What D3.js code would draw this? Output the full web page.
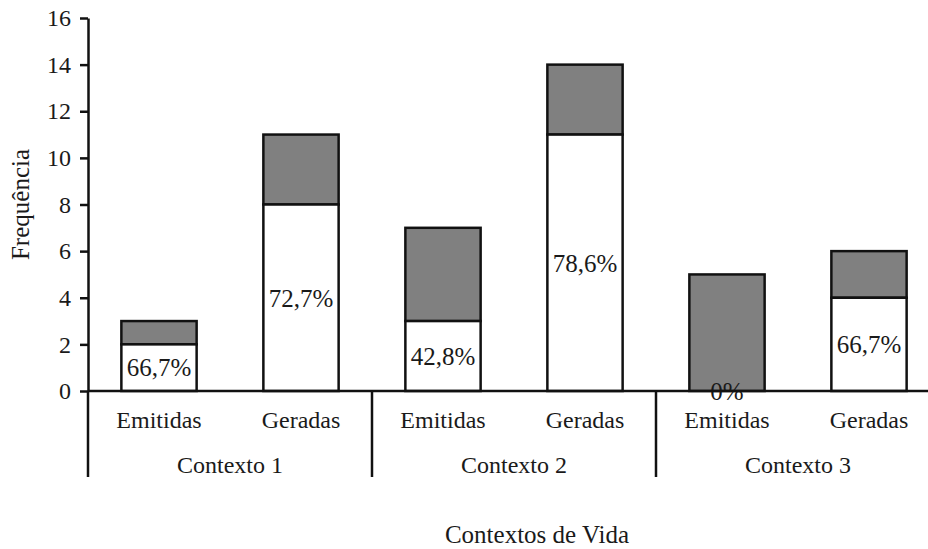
<!DOCTYPE html>
<html>
<head>
<meta charset="utf-8">
<script src="https://cdn.jsdelivr.net/npm/d3@7"></script>
<style>
  body { margin: 0; background: #fff; }
  svg text { font-family: "Liberation Serif", "DejaVu Serif", serif; fill: #1a1a1a; }
</style>
</head>
<body>
<div id="chart"></div>
<script>
// chart data
const contexts = ["Contexto 1", "Contexto 2", "Contexto 3"];
const kinds = ["Emitidas", "Geradas"];
const whiteValues = [2, 8, 3, 11, 0, 4];   // bottom (white) part
const totalValues = [3, 11, 7, 14, 5, 6];  // full bar height
const pctLabels = ["66,7%", "72,7%", "42,8%", "78,6%", "0%", "66,7%"];
const yTicks = [0, 2, 4, 6, 8, 10, 12, 14, 16];

const width = 928, height = 549;
const margin = { left: 88, top: 18, bottom: 158 };
const groupW = 284;

const svg = d3.select("#chart").append("svg")
  .attr("width", width)
  .attr("height", height);

const y = d3.scaleLinear().domain([0, 16]).range([height - margin.bottom, margin.top]);

const x0 = d3.scaleBand().domain(contexts)
  .range([margin.left, margin.left + groupW * contexts.length]);
const x1 = d3.scaleBand().domain(kinds).range([0, x0.bandwidth()]).paddingInner(0.47).paddingOuter(0.235);

const bars = [];
contexts.forEach((c, i) => {
  kinds.forEach((k, j) => {
    const n = i * 2 + j;
    bars.push({ c, k, white: whiteValues[n], total: totalValues[n], pct: pctLabels[n] });
  });
});

const g = svg.append("g");

// gray top part
g.selectAll("rect.top").data(bars).enter().append("rect")
  .attr("x", d => x0(d.c) + x1(d.k))
  .attr("width", x1.bandwidth())
  .attr("y", d => y(d.total))
  .attr("height", d => y(d.white) - y(d.total))
  .attr("fill", "#808080")
  .attr("stroke", "#111")
  .attr("stroke-width", 2.5);

// white bottom part
g.selectAll("rect.bottom").data(bars.filter(d => d.white > 0)).enter().append("rect")
  .attr("x", d => x0(d.c) + x1(d.k))
  .attr("width", x1.bandwidth())
  .attr("y", d => y(d.white))
  .attr("height", d => y(0) - y(d.white))
  .attr("fill", "#fff")
  .attr("stroke", "#111")
  .attr("stroke-width", 2.5);

// percent labels
g.selectAll("text.pct").data(bars).enter().append("text")
  .attr("x", d => x0(d.c) + x1(d.k) + x1.bandwidth() / 2)
  .attr("y", d => (y(0) + y(d.white)) / 2)
  .attr("dy", "0.35em")
  .attr("text-anchor", "middle")
  .attr("font-size", 25)
  .text(d => d.pct);

// y axis
const yAxis = d3.axisLeft(y).tickValues(yTicks).tickSize(8).tickPadding(9).tickSizeOuter(0);
const ya = svg.append("g").attr("transform", `translate(${margin.left},0)`).call(yAxis);
ya.select(".domain").attr("stroke", "#111").attr("stroke-width", 2.5);
ya.selectAll(".tick line").attr("stroke", "#111").attr("stroke-width", 2.5);
ya.selectAll(".tick text").attr("font-size", 24).attr("font-family", "Liberation Serif").attr("fill", "#1a1a1a");

// x axis baseline
const y0 = y(0);
svg.append("line")
  .attr("x1", margin.left).attr("x2", width)
  .attr("y1", y0).attr("y2", y0)
  .attr("stroke", "#111").attr("stroke-width", 2.5);

// group separators
const sepBottom = 477;
svg.selectAll("line.sep").data(contexts).enter().append("line")
  .attr("x1", d => x0(d)).attr("x2", d => x0(d))
  .attr("y1", y0).attr("y2", sepBottom)
  .attr("stroke", "#111").attr("stroke-width", 2.5);

// category labels
bars.forEach(d => {
  svg.append("text")
    .attr("x", x0(d.c) + x1(d.k) + x1.bandwidth() / 2)
    .attr("y", 428)
    .attr("text-anchor", "middle")
    .attr("font-size", 24)
    .text(d.k);
});

svg.selectAll("text.ctx").data(contexts).enter().append("text")
  .attr("x", d => x0(d) + x0.bandwidth() / 2)
  .attr("y", 473)
  .attr("text-anchor", "middle")
  .attr("font-size", 24)
  .text(d => d);

// axis titles
svg.append("text")
  .attr("x", 537).attr("y", 543)
  .attr("text-anchor", "middle")
  .attr("font-size", 25)
  .text("Contextos de Vida");

svg.append("text")
  .attr("transform", `translate(29,${(y(0) + y(16)) / 2}) rotate(-90)`)
  .attr("text-anchor", "middle")
  .attr("font-size", 25)
  .text("Frequência");
</script>
</body>
</html>
